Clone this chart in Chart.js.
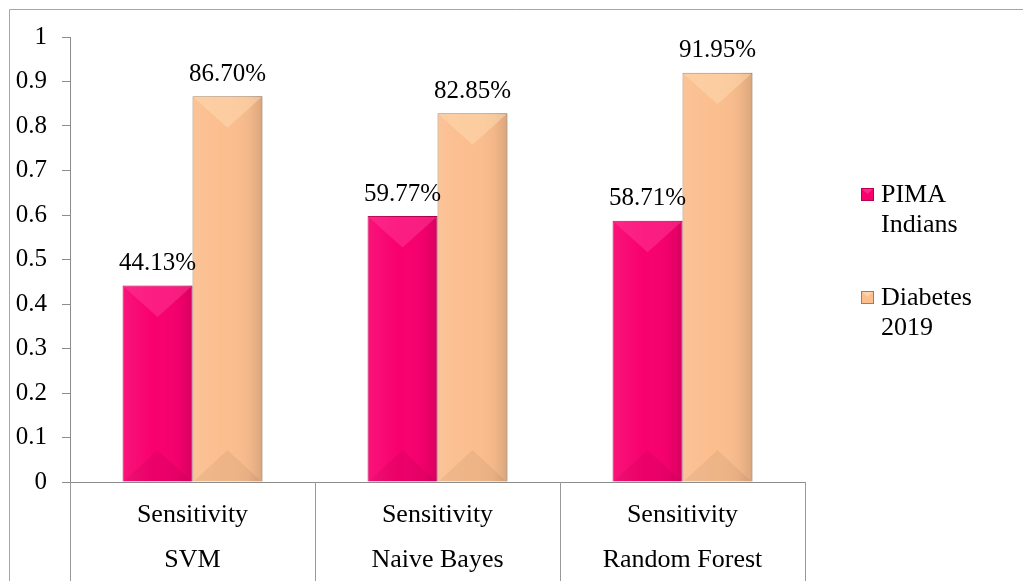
<!DOCTYPE html>
<html>
<head>
<meta charset="utf-8">
<script src="https://cdn.jsdelivr.net/npm/chart.js@4/dist/chart.umd.min.js"></script>
<style>
html,body{margin:0;padding:0;background:#fff;}
#wrap{position:relative;width:1023px;height:581px;}
</style>
</head>
<body>
<div id="wrap"><canvas id="c" width="1023" height="581"></canvas></div>
<script>
const categories = [["Sensitivity","SVM"],["Sensitivity","Naive Bayes"],["Sensitivity","Random Forest"]];
const pimaValues = [0.4413, 0.5977, 0.5871];
const diabetesValues = [0.8670, 0.8285, 0.9195];
const seriesNames = ["PIMA Indians", "Diabetes 2019"];
const legendLines = [["PIMA","Indians"],["Diabetes","2019"]];
const yTickLabels = ["0","0.1","0.2","0.3","0.4","0.5","0.6","0.7","0.8","0.9","1"];

const FONT = "'Liberation Serif','Times New Roman',serif";
const pinkMain = '#F8006E', pinkLight = '#FF3A96', pinkDark = '#B8004F';
const orMain = '#FBBE8E', orLight = '#FEDCB2', orDark = '#A97A55';

const bevelPlugin = {
  id: 'bevel',
  afterDatasetsDraw(chart) {
    const ctx = chart.ctx;
    chart.data.datasets.forEach((ds, di) => {
      const meta = chart.getDatasetMeta(di);
      const light = di === 0 ? pinkLight : orLight;
      meta.data.forEach(bar => {
        const w = bar.width, x0 = bar.x - w/2, x1 = bar.x + w/2, top = bar.y, bot = bar.base;
        const d = Math.min(w * 0.45, (bot - top) / 2);
        ctx.save();
        const g = ctx.createLinearGradient(x0, 0, x1, 0);
        g.addColorStop(0, 'rgba(255,255,255,0.08)');
        g.addColorStop(0.45, 'rgba(255,255,255,0.0)');
        g.addColorStop(0.8, 'rgba(0,0,0,0.03)');
        g.addColorStop(1, 'rgba(0,0,0,0.13)');
        ctx.fillStyle = g;
        ctx.fillRect(x0, top, w, bot - top);
        ctx.globalAlpha = 0.5;
        ctx.fillStyle = light;
        ctx.beginPath();
        ctx.moveTo(x0 + 1, top + 1);
        ctx.lineTo(x1 - 1, top + 1);
        ctx.lineTo(bar.x, top + d);
        ctx.closePath();
        ctx.fill();
        ctx.globalAlpha = 0.05;
        ctx.fillStyle = '#000';
        ctx.beginPath();
        ctx.moveTo(x0 + 1, bot);
        ctx.lineTo(x1 - 1, bot);
        ctx.lineTo(bar.x, bot - d);
        ctx.closePath();
        ctx.fill();
        ctx.restore();
      });
    });
  }
};

const decoPlugin = {
  id: 'deco',
  beforeDraw(chart) {
    const ctx = chart.ctx;
    ctx.save();
    ctx.strokeStyle = '#a6a6a6';
    ctx.lineWidth = 1;
    ctx.beginPath();
    ctx.moveTo(9.5, chart.height);
    ctx.lineTo(9.5, 9.5);
    ctx.lineTo(chart.width, 9.5);
    ctx.stroke();
    ctx.restore();
  },
  afterDraw(chart) {
    const ctx = chart.ctx;
    const xs = chart.scales.x;
    const area = chart.chartArea;
    ctx.save();
    const bounds = [xs.left];
    for (let i = 0; i < categories.length - 1; i++) {
      bounds.push((xs.getPixelForValue(i) + xs.getPixelForValue(i + 1)) / 2);
    }
    bounds.push(xs.right);
    ctx.strokeStyle = '#999';
    ctx.lineWidth = 1;
    bounds.forEach(bx => {
      const px = Math.round(bx) + 0.5;
      ctx.beginPath();
      ctx.moveTo(px, area.bottom);
      ctx.lineTo(px, chart.height);
      ctx.stroke();
    });
    ctx.fillStyle = '#000';
    ctx.font = "25px " + FONT;
    ctx.textAlign = 'center';
    ctx.textBaseline = 'middle';
    chart.data.datasets.forEach((ds, di) => {
      const meta = chart.getDatasetMeta(di);
      meta.data.forEach((bar, i) => {
        ctx.fillText((ds.data[i] * 100).toFixed(2) + '%', bar.x, bar.y - 22);
      });
    });
    const legendX = 861, textX = 881;
    const legendY = [195, 298];
    const fills = [pinkMain, orMain], borders = [pinkDark, orDark], lights = [pinkLight, orLight];
    ctx.font = "26px " + FONT;
    ctx.textAlign = 'left';
    legendLines.forEach((lines, k) => {
      const sy = legendY[k] - 7;
      ctx.fillStyle = fills[k];
      ctx.fillRect(legendX, sy, 13, 13);
      ctx.globalAlpha = 0.7;
      ctx.fillStyle = lights[k];
      ctx.beginPath();
      ctx.moveTo(legendX, sy); ctx.lineTo(legendX + 13, sy); ctx.lineTo(legendX + 6.5, sy + 6); ctx.closePath();
      ctx.fill();
      ctx.globalAlpha = 1;
      ctx.strokeStyle = borders[k];
      ctx.strokeRect(legendX + 0.5, sy + 0.5, 12, 12);
      ctx.fillStyle = '#000';
      lines.forEach((t, j) => ctx.fillText(t, textX, legendY[k] + j * 30));
    });
    ctx.restore();
  }
};

new Chart(document.getElementById('c'), {
  type: 'bar',
  data: {
    labels: categories,
    datasets: [
      { label: seriesNames[0], data: pimaValues, backgroundColor: pinkMain, borderColor: pinkDark, borderWidth: 1 },
      { label: seriesNames[1], data: diabetesValues, backgroundColor: orMain, borderColor: orDark, borderWidth: 1 }
    ]
  },
  options: {
    responsive: false,
    animation: false,
    devicePixelRatio: 1,
    layout: { padding: { left: 9, top: 37, right: 218, bottom: 0 } },
    datasets: { bar: { categoryPercentage: 0.571, barPercentage: 1.0 } },
    plugins: { legend: { display: false }, tooltip: { enabled: false } },
    scales: {
      x: {
        grid: { display: false, drawTicks: false, tickLength: 0 },
        border: { display: true, color: '#8c8c8c', width: 1 },
        ticks: { color: '#000', font: { family: FONT, size: 26, lineHeight: 1.73 }, padding: 11, maxRotation: 0, autoSkip: false },
        afterFit(s) { s.height = 99; }
      },
      y: {
        min: 0, max: 1,
        grid: { display: true, drawOnChartArea: false, drawTicks: true, tickLength: 8, color: '#8c8c8c' },
        border: { display: true, color: '#8c8c8c', width: 1 },
        ticks: {
          stepSize: 0.1, color: '#000', padding: 15,
          font: { family: FONT, size: 25 },
          callback: (v, i) => yTickLabels[i]
        },
        afterFit(s) { s.width = 61; }
      }
    }
  },
  plugins: [bevelPlugin, decoPlugin]
});
</script>
</body>
</html>
